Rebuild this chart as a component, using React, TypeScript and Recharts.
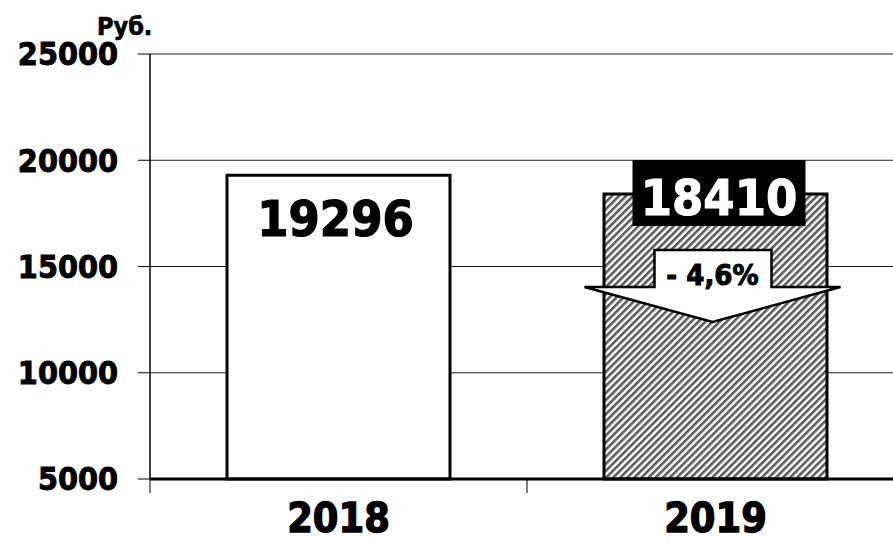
import { BarChart, Bar, XAxis, YAxis, CartesianGrid, Cell, LabelList } from 'recharts';

const years = ['2018', '2019'];
const salary = [19296, 18410];
const yTicks = [5000, 10000, 15000, 20000, 25000];
const changeLabel = '- 4,6%';
const unitLabel = 'Руб.';

const data = years.map((year, i) => ({ year, value: salary[i] }));

const FONT = "'DejaVu Sans Condensed', 'DejaVu Sans', sans-serif";
const W = 920;
const H = 542;
const MARGIN = { top: 54, right: 16, bottom: 0, left: 0 };
const Y_W = 150;
const BAND = (W - MARGIN.left - MARGIN.right - Y_W) / years.length;

// a thin stroke makes the condensed bold look as heavy as the original
const textStyle = { fontFamily: FONT, fontWeight: 700, fontStretch: 'condensed' as const };
const heavy = (color: string, w: number) => ({ stroke: color, strokeWidth: w, paintOrder: 'stroke' as const });

// category ticks sit on the boundaries, labels in the middle
function YearTick({ x, y, payload }: any) {
  return (
    <g>
      <line x1={x - BAND / 2} x2={x - BAND / 2} y1={y} y2={y + 14} stroke="#000" strokeWidth={1} />
      <text x={x} y={y + 53} textAnchor="middle" fontSize={41} fill="#000" {...heavy('#000', 1.3)} style={textStyle}>
        {payload.value}
      </text>
    </g>
  );
}

function ValueLabel(props: any) {
  const { x, y, width, value } = props;
  const i = props.index ?? data.findIndex(d => d.value === value);
  const cx = x + width / 2;

  if (i === 0) {
    return (
      <text x={cx - 3} y={y + 61} textAnchor="middle" fontSize={50} fill="#000" {...heavy('#000', 1.2)} style={textStyle}>
        {value}
      </text>
    );
  }

  // 2019: black value box plus a down arrow with the change
  const ax = cx - 3;
  const top = y + 56;
  const sh = y + 93;
  const tip = y + 128;
  const pts = [
    [ax - 58, top], [ax + 59, top], [ax + 59, sh], [ax + 128, sh],
    [ax, tip], [ax - 128, sh], [ax - 58, sh],
  ].map(p => p.join(',')).join(' ');

  return (
    <g>
      <polygon points={pts} fill="#fff" stroke="#000" strokeWidth={2.5} strokeLinejoin="miter" />
      <text x={ax} y={y + 91} textAnchor="middle" fontSize={29} fill="#000" {...heavy('#000', 1)} style={textStyle}>
        {changeLabel}
      </text>
      <rect x={cx + 3.5 - 86.5} y={y - 34} width={173} height={66} fill="#000" />
      <text x={cx + 3.5} y={y + 21} textAnchor="middle" fontSize={50} fill="#fff" {...heavy('#fff', 1)} style={textStyle}>
        {value}
      </text>
    </g>
  );
}

export default function App() {
  return (
    <div style={{ position: 'absolute', left: 0, top: 0, width: 893, height: 542, overflow: 'hidden', background: '#fff' }}>
      <BarChart width={W} height={H} data={data} margin={MARGIN}>
        <defs>
          <pattern id="hatch" patternUnits="userSpaceOnUse" width={5} height={5} patternTransform="rotate(45)">
            <rect x={0} y={0} width={5} height={5} fill="#fff" />
            <rect x={0} y={0} width={2.6} height={5} fill="#5a5a5a" />
          </pattern>
        </defs>
        <CartesianGrid vertical={false} stroke="#222" strokeWidth={1} />
        <XAxis
          dataKey="year"
          height={63}
          tickSize={0}
          tickMargin={0}
          tickLine={false}
          axisLine={{ stroke: '#000', strokeWidth: 3 }}
          tick={<YearTick />}
        />
        <YAxis
          width={Y_W}
          domain={[5000, 25000]}
          ticks={yTicks}
          interval={0}
          tickSize={12}
          tickMargin={20}
          tickLine={{ stroke: '#000' }}
          axisLine={{ stroke: '#000', strokeWidth: 1.5 }}
          tick={{ fill: '#000', fontSize: 32, stroke: '#000', strokeWidth: 0.9, paintOrder: 'stroke', ...textStyle }}
        />
        <Bar dataKey="value" barSize={223} isAnimationActive={false}>
          {data.map((d, i) => (
            <Cell key={d.year} fill={i === 0 ? '#fff' : 'url(#hatch)'} stroke="#000" strokeWidth={3} />
          ))}
          <LabelList dataKey="value" content={<ValueLabel />} />
        </Bar>
      </BarChart>
      <svg width={893} height={60} style={{ position: 'absolute', left: 0, top: 0, pointerEvents: 'none' }}>
        <text x={97} y={35} fontSize={25} fill="#000" {...heavy('#000', 0.6)} style={textStyle}>{unitLabel}</text>
      </svg>
    </div>
  );
}
